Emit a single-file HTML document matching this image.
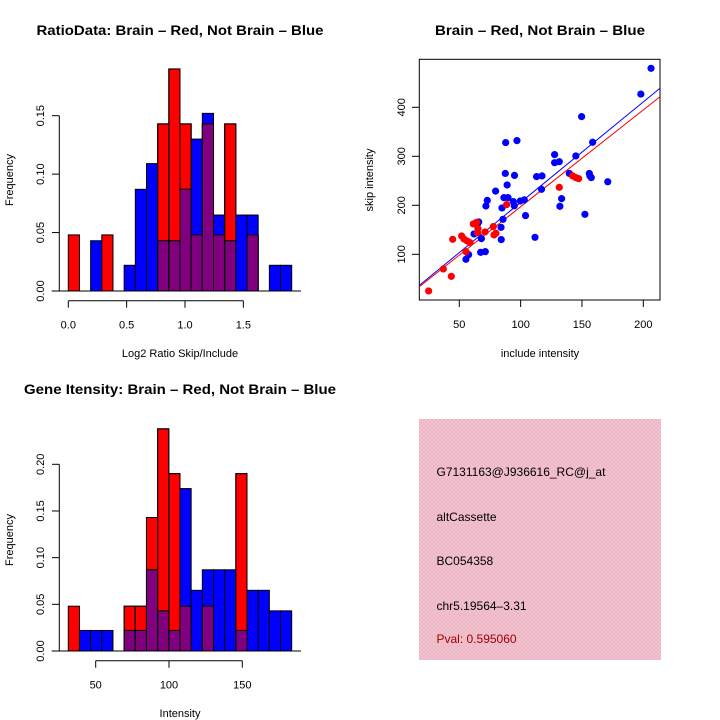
<!DOCTYPE html>
<html><head><meta charset="utf-8"><style>
html,body{margin:0;padding:0;background:#fff;}
svg{display:block;font-family:"Liberation Sans",Arial,sans-serif;}
</style></head><body>
<svg id="c" width="720" height="720" viewBox="0 0 720 720" xmlns="http://www.w3.org/2000/svg">
<defs>
<pattern id="hatch" width="4" height="4" patternUnits="userSpaceOnUse">
<rect width="4" height="4" fill="#f3c3cf"/>
<path d="M0,4 L4,0 M0,0 L4,4" stroke="#e8b0c0" stroke-width="0.6"/>
</pattern>
</defs>
<text x="180" y="35" font-size="13.5" font-weight="bold" text-anchor="middle" textLength="287" lengthAdjust="spacingAndGlyphs">RatioData: Brain – Red, Not Brain – Blue</text>
<text x="540" y="35" font-size="13.5" font-weight="bold" text-anchor="middle" textLength="210" lengthAdjust="spacingAndGlyphs">Brain – Red, Not Brain – Blue</text>
<text x="180" y="394" font-size="13.5" font-weight="bold" text-anchor="middle" textLength="312" lengthAdjust="spacingAndGlyphs">Gene Itensity: Brain – Red, Not Brain – Blue</text>
<g id="g1"></g>
<g id="g2"></g>
<g id="g3"></g>
<g>
<rect x="419" y="419" width="242" height="241" fill="url(#hatch)"/>
<text x="436.5" y="476" font-size="12">G7131163@J936616_RC@j_at</text>
<text x="436.5" y="521" font-size="12">altCassette</text>
<text x="436.5" y="565" font-size="12">BC054358</text>
<text x="436.5" y="610" font-size="12">chr5.19564–3.31</text>
<text x="436.5" y="643" font-size="12" fill="#a00000">Pval: 0.595060</text>
</g>
</svg>
<script>
// Ratio histogram data (20 bins, starting 0.0, width ~0.0957)
const ratioRed  = [0.048,0,0,0.048,0,0,0,0,0.143,0.190,0.143,0.048,0.143,0.048,0.143,0,0.048,0,0,0];
const ratioBlue = [0,0,0.043,0,0,0.022,0.087,0.109,0.043,0.043,0.087,0.130,0.152,0.065,0.043,0.065,0.065,0,0.022,0.022];
const ratioXTicks = [0.0,0.5,1.0,1.5];
const ratioYTicks = ["0.00","0.05","0.10","0.15"];
// Intensity histogram data (20 bins, starting 31.3, width 7.62)
const intRed  = [0.048,0,0,0,0,0.048,0.048,0.143,0.238,0.190,0.048,0,0.048,0,0,0.190,0,0,0,0];
const intBlue = [0,0.022,0.022,0.022,0,0.022,0.022,0.087,0.043,0.022,0.174,0.065,0.087,0.087,0.087,0.022,0.065,0.065,0.043,0.043];
const intXTicks = [50,100,150];
const intYTicks = ["0.00","0.05","0.10","0.15","0.20"];
// Scatter data
const blueX = [206.3,198,149.7,158.7,145,127.7,127.7,131.5,97,87.8,87.5,95,113,117.4,139.7,156,156.5,157.6,171,89,79.6,72.8,71.7,86.4,89.7,94,94.8,99.7,103,117,133.4,132,84.8,85.6,104,152.4,84,84.2,111.7,65.8,65,62,68,67.4,71.2,55.4,57.6];
const blueY = [479.6,427,381,328.6,300.7,303.4,287,289,332,328,265,261,258.5,260,265,265,260,256.5,248,241.5,229,210,198.6,215.6,215.6,207.5,199,208.8,211,232.7,213.6,198,194.6,171.4,179,181.6,155,130,134.7,166,162.6,141.5,132,104,105.4,89.8,99.3];
const redX = [25,37,43.5,44.6,51.9,53.8,56.5,58.7,55.4,61.4,64.1,65.2,65,71,77.7,78.3,79.9,88.6,131.5,142.4,147.3,145];
const redY = [25.2,70,55,130.6,137.4,131.3,127,123.8,105.4,162,165.3,152.4,144,145.6,156.5,139.5,142.9,201.4,236.7,260,254.4,256.5];
const fitBlue = [1.0, 2.05];   // intercept, slope
const fitRed = [-0.5, 1.976];
const scXTicks = [50,100,150,200];
const scYTicks = [100,200,300,400];

const NS="http://www.w3.org/2000/svg";
function mk(parent,tag,attrs,txt){const e=document.createElementNS(NS,tag);for(const k in attrs)e.setAttribute(k,attrs[k]);if(txt!==undefined)e.textContent=txt;parent.appendChild(e);return e;}

function hist(g,red,blue,x0,bw,xs,ys,xTicks,yTicks,yAxisTop,xlabel,xAxisY,xlabY,pre,ylabY){
  for(let i=0;i<red.length;i++){
    const a=x0+i*bw, b=a+bw;
    const xa=xs(a), xb=xs(b);
    const r=red[i], bl=blue[i], m=Math.min(r,bl);
    if(r>0){const e=mk(g,'rect',{x:xa,y:ys(r),width:xb-xa,height:ys(0)-ys(r),fill:'#ff0000',stroke:'#000','stroke-width':1});
      
      }
    if(bl>0){const e=mk(g,'rect',{x:xa,y:ys(bl),width:xb-xa,height:ys(0)-ys(bl),fill:'#0000ff',stroke:'#000','stroke-width':1});
      
      }
    if(m>0){const e=mk(g,'rect',{x:xa,y:ys(m),width:xb-xa,height:ys(0)-ys(m),fill:'#800080',stroke:'#000','stroke-width':1});
      
      }
    if(r>bl&&bl>0){mk(g,'rect',{x:xa,y:ys(r),width:xb-xa,height:ys(0)-ys(r),fill:'none',stroke:'#000','stroke-width':1});}
  }
  mk(g,'line',{x1:51.7,x2:301,y1:ys(0),y2:ys(0),stroke:'#000','stroke-width':1});
  const ya=mk(g,'line',{x1:59.3,x2:59.3,y1:ys(0),y2:ys(yAxisTop),stroke:'#000'});
  
  
  yTicks.forEach(t=>{const v=parseFloat(t);const y=ys(v);
    mk(g,'line',{x1:52,x2:59.3,y1:y,y2:y,stroke:'#000'});
    const e=mk(g,'text',{x:0,y:0,'font-size':11,'text-anchor':'middle',transform:`translate(44,${y}) rotate(-90)`},t);
    
    });
  const xa=mk(g,'line',{x1:xs(xTicks[0]),x2:xs(xTicks[xTicks.length-1]),y1:xAxisY,y2:xAxisY,stroke:'#000'});
  
  
  xTicks.forEach(t=>{const x=xs(t);
    mk(g,'line',{x1:x,x2:x,y1:xAxisY,y2:xAxisY+7,stroke:'#000'});
    const e=mk(g,'text',{x:x,y:xAxisY+28,'font-size':11,'text-anchor':'middle'},(pre==='ratio')?t.toFixed(1):String(t));
    
    });
  const xl=mk(g,'text',{x:180,y:xlabY,'font-size':11,'text-anchor':'middle'},xlabel);
  
  
  const yl=mk(g,'text',{x:0,y:0,'font-size':11,'text-anchor':'middle',transform:`translate(13,${ylabY}) rotate(-90)`},'Frequency');
  
  
}

(function(){
  const g=document.getElementById('g1');
  const xs=v=>68.3+v*116.7;
  const ys=v=>291-v*(175.3/0.15);
  hist(g,ratioRed,ratioBlue,0,(291.7-68.3)/20/116.7,xs,ys,ratioXTicks,ratioYTicks,0.15,'Log2 Ratio Skip/Include',300.7,357,'ratio',180);
})();
(function(){
  const g=document.getElementById('g3');
  const xs=v=>95.7+(v-50)*1.466;
  const ys=v=>651-v*(186.7/0.20);
  hist(g,intRed,intBlue,31.3,(291.7-68.3)/20/1.466,xs,ys,intXTicks,intYTicks,0.20,'Intensity',660.7,717,'intensity',540);
})();
(function(){
  const g=document.getElementById('g2');
  const xs=v=>459.3+(v-50)*1.2267;
  const ys=v=>254.3-(v-100)*0.49;
  const box=mk(g,'rect',{x:419.3,y:59.3,width:240.7,height:240.7,fill:'none',stroke:'#000'});
  
  
  scXTicks.forEach(t=>{const x=xs(t);
    mk(g,'line',{x1:x,x2:x,y1:300,y2:307,stroke:'#000'});
    const e=mk(g,'text',{x:x,y:328,'font-size':11,'text-anchor':'middle'},String(t));
    
    });
  scYTicks.forEach(t=>{const y=ys(t);
    mk(g,'line',{x1:412,x2:419.3,y1:y,y2:y,stroke:'#000'});
    const e=mk(g,'text',{x:0,y:0,'font-size':11,'text-anchor':'middle',transform:`translate(405,${y}) rotate(-90)`},String(t));
    
    });
  const xl=mk(g,'text',{x:540,y:357,'font-size':11,'text-anchor':'middle'},'include intensity');
  
  
  const yl=mk(g,'text',{x:0,y:0,'font-size':11,'text-anchor':'middle',transform:'translate(373,180) rotate(-90)'},'skip intensity');
  
  
  const x0=50+(419.3-459.3)/1.2267, x1=50+(660-459.3)/1.2267;
  const cp=mk(g,'clipPath',{id:'scclip'});mk(cp,'rect',{x:419.3,y:59.3,width:240.7,height:240.7});
  [[fitBlue,'#0000ff','blue-fit-line'],[fitRed,'#ff0000','red-fit-line']].forEach(([f,c,n])=>{
    const l=mk(g,'line',{x1:xs(x0),y1:ys(f[0]+f[1]*x0),x2:xs(x1),y2:ys(f[0]+f[1]*x1),stroke:c,'stroke-width':1,'clip-path':'url(#scclip)'});
    
    });
  blueX.forEach((v,i)=>{const p=mk(g,'circle',{cx:xs(v),cy:ys(blueY[i]),r:3.6,fill:'#0000ff'});
    
    });
  redX.forEach((v,i)=>{const p=mk(g,'circle',{cx:xs(v),cy:ys(redY[i]),r:3.6,fill:'#ff0000'});
    
    });
})();
</script>
</body></html>
